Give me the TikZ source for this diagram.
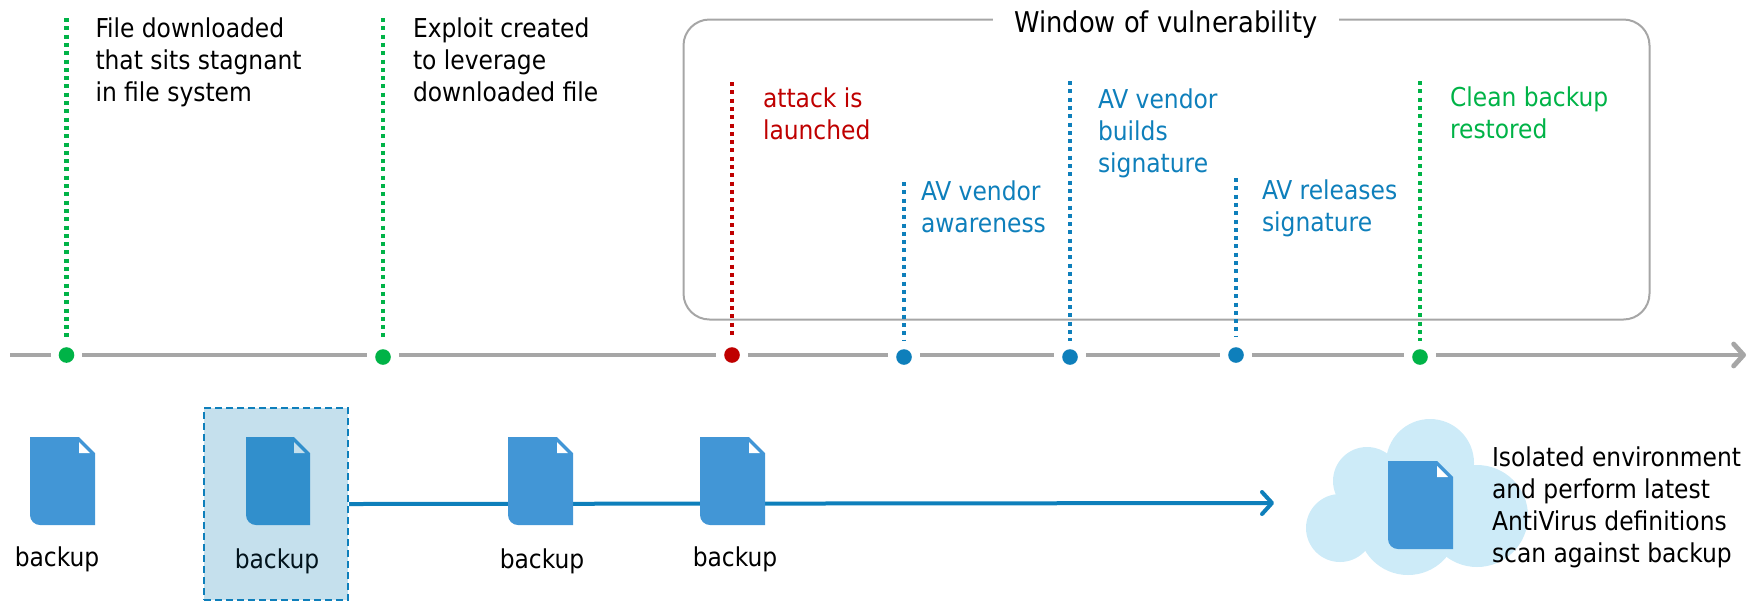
\documentclass[tikz,border=0pt]{standalone}
\usepackage{fontspec}
\setmainfont{DejaVu Sans Condensed}
\usetikzlibrary{positioning}
\usetikzlibrary{arrows.meta}

\definecolor{axisgray}{HTML}{A6A6A6}
\definecolor{gooddot}{HTML}{00B347}
\definecolor{attackred}{HTML}{BF0000}
\definecolor{avblue}{HTML}{0E7FBB}
\definecolor{fileblue}{HTML}{4296D6}
\definecolor{fileselblue}{HTML}{318FCC}
\definecolor{selfill}{HTML}{C5E0ED}
\definecolor{cloudblue}{HTML}{CDEBF8}

\tikzset{
    lbl/.style={inner sep=0pt, outer sep=0pt, align=left, font=\fontsize{13}{16}\selectfont},
    dot/.style={circle, inner sep=0pt, minimum size=7.8pt, outer sep=4pt},
    stem/.style={line width=2.2pt, dash pattern=on 2pt off 2.15pt},
    axisline/.style={line width=2.4pt, draw=axisgray},
    docfile/.pic={
        \fill[fileblue] (0,0) -- (49,0) -- (65,16) -- (65,88) -- (10,88)
            arc[start angle=270, end angle=180, radius=5pt] -- cycle;
        \fill[white] (49,5) -- (60,16) -- (49,16) -- cycle;
    },
    docfilesel/.pic={
        \fill[fileselblue] (0,0) -- (48,0) -- (64,16) -- (64,88) -- (10,88)
            arc[start angle=270, end angle=180, radius=5pt] -- cycle;
        \fill[selfill] (48,5) -- (59,16) -- (48,16) -- cycle;
    }
}

\begin{document}
\begin{tikzpicture}[x=0.5pt, y=-0.5pt]
    \useasboundingbox (0,0) rectangle (1748,601);

    % window
    \node(wbox) [draw=axisgray, line width=1pt, rounded corners=13pt, minimum width=483pt, minimum height=150pt, inner sep=0pt] at (1166.5,169.5) {};
    \node(wtitle) [fill=white, inner sep=0pt, minimum width=173pt, minimum height=20pt, font=\fontsize{14.3}{16}\selectfont] at (1166,25) {Window of vulnerability};

    % timeline
    \coordinate (tstart) at (10,355);
    \coordinate (tend) at (1746,355);
    \node(g1) [dot, fill=gooddot] at (66.5,355) {};
    \node(g2) [dot, fill=gooddot] at (383,357) {};
    \node(r1) [dot, fill=attackred] at (732,355) {};
    \node(b1) [dot, fill=avblue] at (904,357) {};
    \node(b2) [dot, fill=avblue] at (1070,357) {};
    \node(b3) [dot, fill=avblue] at (1236,355) {};
    \node(g3) [dot, fill=gooddot] at (1420,357) {};

    \draw[axisline] (tstart) -- (tstart -| g1.west);
    \draw[axisline] (g1.east |- tstart) -- (tstart -| g2.west);
    \draw[axisline] (g2.east |- tstart) -- (tstart -| r1.west);
    \draw[axisline] (r1.east |- tstart) -- (tstart -| b1.west);
    \draw[axisline] (b1.east |- tstart) -- (tstart -| b2.west);
    \draw[axisline] (b2.east |- tstart) -- (tstart -| b3.west);
    \draw[axisline] (b3.east |- tstart) -- (tstart -| g3.west);
    \draw[axisline, -{Straight Barb[length=5pt, width=11pt, round]}] (g3.east |- tstart) -- (tend);

    % stems
    \coordinate (g1top) at (66.5,18);
    \coordinate (g2top) at (383,18);
    \coordinate (r1top) at (732,82);
    \coordinate (b1top) at (904,182);
    \coordinate (b2top) at (1070,81);
    \coordinate (b3top) at (1236,178);
    \coordinate (g3top) at (1420,81);

    \draw[stem, draw=gooddot] (g1top) -- (g1.north);
    \draw[stem, draw=gooddot] (g2top) -- (g2.north);
    \draw[stem, draw=attackred] (r1top) -- ([yshift=2pt]r1.north);
    \draw[stem, draw=avblue] (b1top) -- (b1.north);
    \draw[stem, draw=avblue] (b2top) -- (b2.north);
    \draw[stem, draw=avblue] (b3top) -- ([yshift=1pt]b3.north);
    \draw[stem, draw=gooddot] (g3top) -- (g3.north);

    \node(g1lbl) [lbl, right=14.5pt of g1top, anchor=north west] {File downloaded\\that sits stagnant\\in file system};
    \node(g2lbl) [lbl, right=15pt of g2top, anchor=north west] {Exploit created\\to leverage\\downloaded file};
    \node(r1lbl) [lbl, text=attackred, right=15.5pt of r1top, anchor=north west, yshift=-2.8pt] {attack is\\launched};
    \node(b1lbl) [lbl, text=avblue, right=8.5pt of b1top, anchor=north west, yshift=0.5pt] {AV vendor\\awareness};
    \node(b2lbl) [lbl, text=avblue, right=14pt of b2top, anchor=north west, yshift=-3.9pt] {AV vendor\\builds\\signature};
    \node(b3lbl) [lbl, text=avblue, right=13pt of b3top, anchor=north west, yshift=-1pt] {AV releases\\signature};
    \node(g3lbl) [lbl, text=gooddot, right=15pt of g3top, anchor=north west, yshift=-3pt] {Clean backup\\restored};

    % selected backup and arrow
    \node(selbox) [draw=avblue, fill=selfill, line width=1.2pt, dash pattern=on 3.5pt off 2pt, minimum width=72pt, minimum height=96pt, inner sep=0pt] at (276,504) {};
    \coordinate (arrowend) at (1274,503);
    \draw[line width=2pt, draw=avblue, -{Straight Barb[length=5pt, width=11pt, round]}] (selbox.east) -- (arrowend);

    % cloud
    \fill[cloudblue] (1430,463) circle[radius=22pt];
    \fill[cloudblue] (1367,481) circle[radius=17pt];
    \fill[cloudblue] (1340,528) circle[radius=17pt];
    \fill[cloudblue] (1408,525) circle[radius=25pt];
    \fill[cloudblue] (1477,516) circle[radius=25.5pt];
    \fill[cloudblue] (1360,470) rectangle (1480,540);

    % files
    \pic at (30,437) {docfile};
    \pic at (246,437) {docfilesel};
    \pic at (508,437) {docfile};
    \pic at (700,437) {docfile};
    \pic at (1388,461) {docfile};

    \node(bk1) [lbl] at (57,559) {backup};
    \node(bk2) [lbl, text=black!85!avblue] at (277,561) {backup};
    \node(bk3) [lbl] at (542,561) {backup};
    \node(bk4) [lbl] at (735,559) {backup};
    \node(cloudlbl) [lbl, anchor=west] at (1492,507) {Isolated environment\\and perform latest\\AntiVirus definitions\\scan against backup};
\end{tikzpicture}
\end{document}
